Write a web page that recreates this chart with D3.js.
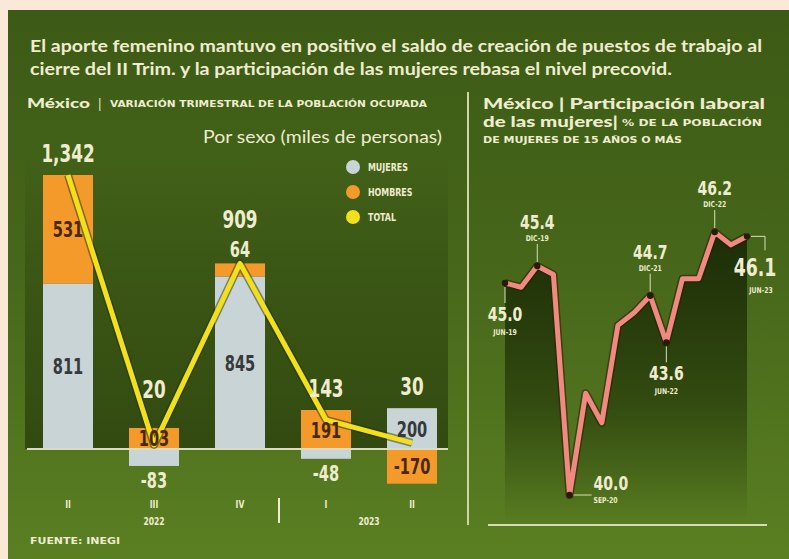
<!DOCTYPE html>
<html><head><meta charset="utf-8">
<script src="https://cdn.jsdelivr.net/npm/d3@7"></script>
<style>
html,body{margin:0;padding:0;background:#fbe9d7;}
svg{display:block;}
.n{font-family:"Liberation Sans Narrow","DejaVu Sans Condensed","Liberation Sans",sans-serif;font-weight:bold;}
.g{font-family:Lato,"Open Sans",sans-serif;}
</style></head><body>
<svg id="c" width="789" height="559"></svg>
<script>
// ---- data: left chart (miles de personas) ----
const quarters = ["II","III","IV","I","II"];
const years = ["2022","2023"];
const yearSpans = [[0,2],[3,4]];
const mujeres = [811,-83,845,-48,200];
const hombres = [531,103,64,191,-170];
const total   = [1342,20,909,143,30];
const legendLabels = ["MUJERES","HOMBRES","TOTAL"];

// ---- data: right chart (% participación) ----
const participacion = [45.0,44.9,45.4,45.2,40.0,42.4,41.7,44.0,44.3,44.7,43.6,45.1,45.1,46.2,45.9,46.1];
const annotIdx   = [0,2,4,9,10,13,15];
const annotText  = ["JUN-19","DIC-19","SEP-20","DIC-21","JUN-22","DIC-22","JUN-23"];
const annotPlace = ["below","above","right","above","below","above","corner"];

const title = ["El aporte femenino mantuvo en positivo el saldo de creación de puestos de trabajo al",
               "cierre del II Trim. y la participación de las mujeres rebasa el nivel precovid."];

const C = {light:"#efeccf", gray:"#c9d4d6", orange:"#f39a2a", yellow:"#f3e01b", pink:"#f08a80"};
const fmt = v => d3.format(",")(v).replace("\u2212","-");

const svg = d3.select("#c");
const defs = svg.append("defs");
function grad(id, stops){
  const g = defs.append("linearGradient").attr("id",id).attr("x1",0).attr("y1",0).attr("x2",0).attr("y2",1);
  stops.forEach(s=>g.append("stop").attr("offset",s[0]).attr("stop-color",s[1]).attr("stop-opacity",s[2]));
}
grad("panel",[[0,"#3c5a15",1],[0.45,"#46661a",1],[1,"#5a7f22",1]]);
grad("leftdark",[[0,"#1c2c06",0],[0.5,"#1c2c06",0.35],[1,"#1c2c06",0.6]]);
grad("rightdark",[[0,"#182705",0.9],[0.6,"#1c2c06",0.55],[1,"#1c2c06",0]]);

function ntext(sel, x, y, str, size, anchor, color, sx){
  return sel.append("text").attr("class","n")
    .attr("transform",`translate(${x},${y}) scale(${sx},1)`)
    .attr("text-anchor",anchor).attr("fill",color).attr("font-size",size).text(str);
}

// panel
svg.append("rect").attr("x",8).attr("y",10).attr("width",781).attr("height",549).attr("fill","url(#panel)");

// title
svg.selectAll("text.title").data(title).join("text")
  .attr("class","g").attr("x",30).attr("y",(d,i)=>52+i*23)
  .attr("fill",C.light).attr("font-size",17).attr("font-weight",700)
  .attr("textLength",(d,i)=>i===0?732:642).attr("lengthAdjust","spacingAndGlyphs")
  .text(d=>d);

// ---- left chart ----
const x = d3.scalePoint().domain(d3.range(quarters.length)).range([68,412]);
const y = d3.scaleLinear().domain([0,1342]).range([449,175]);
const bw = 50;

svg.append("rect").attr("x",25).attr("y",150).attr("width",423).attr("height",y(0)-150).attr("fill","url(#leftdark)");

// header
svg.append("text").attr("class","g").attr("x",27).attr("y",108).attr("fill",C.light)
  .attr("font-size",14).attr("font-weight",900).attr("textLength",63).attr("lengthAdjust","spacingAndGlyphs").text("México");
svg.append("text").attr("class","g").attr("x",98).attr("y",109).attr("fill",C.light).attr("font-size",14).text("|");
svg.append("text").attr("class","n").attr("x",110).attr("y",107).attr("fill",C.light)
  .attr("font-size",9.5).attr("textLength",317).attr("lengthAdjust","spacingAndGlyphs")
  .text("VARIACIÓN TRIMESTRAL  DE LA POBLACIÓN OCUPADA");
svg.append("text").attr("class","g").attr("x",442).attr("y",143).attr("text-anchor","end").attr("fill",C.light)
  .attr("font-size",17).attr("font-weight",400).attr("textLength",239).attr("lengthAdjust","spacingAndGlyphs")
  .text("Por sexo (miles de personas)");

// legend
const lc = [C.gray,C.orange,C.yellow];
const lg = svg.append("g");
legendLabels.forEach((t,i)=>{
  lg.append("circle").attr("cx",353).attr("cy",167+i*25).attr("r",7).attr("fill",lc[i]);
  ntext(lg, 368, 171+i*25, t, 11, "start", C.light, 0.8).attr("font-weight","normal");
});

// stacked bars
const rows = quarters.map((q,i)=>({i, mujeres:mujeres[i], hombres:hombres[i]}));
const keys = ["mujeres","hombres"];
const series = d3.stack().keys(keys).offset(d3.stackOffsetDiverging)(rows);
const fill = {mujeres:C.gray, hombres:C.orange};
const dark = {mujeres:"#363a3c", hombres:"#4a2806"};
const segTopLabel = rows.map(()=>null);
series.forEach(s=>{
  s.forEach(d=>{
    const y0 = y(d[0]), y1 = y(d[1]);
    const top = Math.min(y0,y1), h = Math.abs(y0-y1);
    const cx = x(d.data.i);
    svg.append("rect").attr("x",cx-bw/2).attr("y",top).attr("width",bw).attr("height",h).attr("fill",fill[s.key]);
  });
});
// baseline
svg.append("line").attr("x1",27).attr("x2",448).attr("y1",y(0)).attr("y2",y(0)).attr("stroke","#d9dcc0").attr("stroke-width",2);

// total line
const tl = d3.line().x((d,i)=>x(i)).y(d=>y(d));
svg.append("path").attr("d",tl(total)).attr("fill","none").attr("stroke","#22310a").attr("stroke-width",8).attr("stroke-opacity",0.5).attr("stroke-linejoin","round");
svg.append("path").attr("d",tl(total)).attr("fill","none").attr("stroke",C.yellow).attr("stroke-width",5).attr("stroke-linejoin","round");

// segment labels
series.forEach(s=>{
  s.forEach(d=>{
    const v = d.data[s.key];
    const y0 = y(d[0]), y1 = y(d[1]);
    const top = Math.min(y0,y1), bot = Math.max(y0,y1), h = bot-top;
    const cx = x(d.data.i);
    let ty, col;
    if (h >= 18){ ty = (top+bot)/2 + 8; col = dark[s.key]; }
    else if (v > 0){ ty = top - 6; col = C.light; segTopLabel[d.data.i] = ty - 16; }
    else { ty = bot + 22; col = C.light; }
    ntext(svg, cx, ty, fmt(v), 22, "middle", col, 0.74);
  });
});
// total labels
total.forEach((t,i)=>{
  const stackTop = y(Math.max(0,mujeres[i])+Math.max(0,hombres[i]));
  const ref = segTopLabel[i]!==null ? segTopLabel[i] : stackTop;
  const ty = Math.min(ref - 13, y(0) - 51);
  ntext(svg, x(i), ty, fmt(t), 24, "middle", C.light, 0.78);
});

// x labels
quarters.forEach((q,i)=>{
  ntext(svg, x(i), 508, q, 10, "middle", C.light, 0.85);
});
years.forEach((yr,k)=>{
  const sp = yearSpans[k];
  ntext(svg, (x(sp[0])+x(sp[1]))/2, 525, yr, 10, "middle", C.light, 0.85);
});
svg.append("line").attr("x1",(x(2)+x(3))/2-4).attr("x2",(x(2)+x(3))/2-4).attr("y1",498).attr("y2",523).attr("stroke",C.light).attr("stroke-width",2);
svg.append("text").attr("class","n").attr("x",30).attr("y",544).attr("fill",C.light).attr("font-size",9)
  .attr("textLength",90).attr("lengthAdjust","spacingAndGlyphs").text("FUENTE: INEGI");

// ---- right chart ----
svg.append("line").attr("x1",468).attr("x2",468).attr("y1",92).attr("y2",525).attr("stroke","#cdd6a4").attr("stroke-width",2);
svg.append("text").attr("class","g").attr("x",483).attr("y",109).attr("fill",C.light).attr("font-size",15).attr("font-weight",900)
  .attr("textLength",282).attr("lengthAdjust","spacingAndGlyphs").text("México | Participación laboral");
svg.append("text").attr("class","g").attr("x",483).attr("y",127).attr("fill",C.light).attr("font-size",15).attr("font-weight",900)
  .attr("textLength",135).attr("lengthAdjust","spacingAndGlyphs").text("de las mujeres|");
svg.append("text").attr("class","n").attr("x",622).attr("y",126).attr("fill",C.light).attr("font-size",9)
  .attr("textLength",140).attr("lengthAdjust","spacingAndGlyphs").text("% DE LA POBLACIÓN");
svg.append("text").attr("class","n").attr("x",483).attr("y",143).attr("fill",C.light).attr("font-size",9)
  .attr("textLength",199).attr("lengthAdjust","spacingAndGlyphs").text("DE MUJERES DE 15 AÑOS O MÁS");

const xr = d3.scalePoint().domain(d3.range(participacion.length)).range([505,747]);
const yr = d3.scaleLinear().domain([40,45]).range([495,283]);
const base = 525;
const area = d3.area().x((d,i)=>xr(i)).y0(base-3).y1(d=>yr(d));
svg.append("path").attr("d",area(participacion)).attr("fill","url(#rightdark)");
svg.append("line").attr("x1",488).attr("x2",767).attr("y1",base).attr("y2",base).attr("stroke","#d5dcb0").attr("stroke-width",2);
const ln = d3.line().x((d,i)=>xr(i)).y(d=>yr(d));
svg.append("path").attr("d",ln(participacion)).attr("fill","none").attr("stroke","#2a1c08").attr("stroke-width",8).attr("stroke-opacity",0.55).attr("stroke-linejoin","round");
svg.append("path").attr("d",ln(participacion)).attr("fill","none").attr("stroke",C.pink).attr("stroke-width",5).attr("stroke-linejoin","round");

const stem = "#d9dfb6";
annotIdx.forEach((i,k)=>{
  const px = xr(i), py = yr(participacion[i]);
  const val = participacion[i].toFixed(1), lab = annotText[k], pl = annotPlace[k];
  const g = svg.append("g");
  let vx=px, vy, dx=px, dy, anchor="middle", vs=20, vsx=0.78;
  if (pl==="below"){
    g.append("line").attr("x1",px).attr("x2",px).attr("y1",py+4).attr("y2",py+20).attr("stroke",stem);
    vy = py+38; dy = py+52;
  } else if (pl==="above"){
    g.append("line").attr("x1",px).attr("x2",px).attr("y1",py-4).attr("y2",py-22).attr("stroke",stem);
    vy = py-37; dy = py-25;
  } else if (pl==="right"){
    g.append("line").attr("x1",px+4).attr("x2",px+22).attr("y1",py).attr("y2",py).attr("stroke",stem);
    vx = px+24; dx = px+24; anchor="start"; vy = py-5; dy = py+8;
  } else {
    g.append("polyline").attr("points",[[px+4,py],[px+18,py],[px+18,py+14]].join(" ")).attr("fill","none").attr("stroke",stem);
    vx = px+8; dx = px+14; vy = py+40; dy = py+57; vs = 24; vsx = 0.8;
  }
  g.append("circle").attr("cx",px).attr("cy",py).attr("r",3.2).attr("fill","#2a1a0a");
  ntext(g, vx, vy, val, vs, anchor, C.light, vsx);
  ntext(g, dx, dy, lab, 8, anchor, C.light, 0.85);
});
</script>
</body></html>
